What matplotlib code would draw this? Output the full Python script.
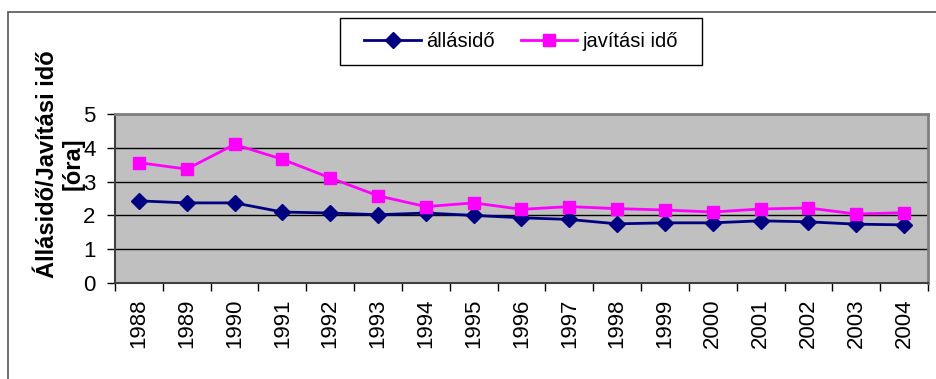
import matplotlib
matplotlib.use("Agg")
import matplotlib.pyplot as plt
from matplotlib.patches import Rectangle

plt.rcParams['font.family'] = ['Liberation Sans', 'DejaVu Sans']

years = ['1988', '1989', '1990', '1991', '1992', '1993', '1994', '1995', '1996',
         '1997', '1998', '1999', '2000', '2001', '2002', '2003', '2004']
allasido = [2.43, 2.37, 2.37, 2.10, 2.07, 2.02, 2.07, 2.00, 1.93,
            1.88, 1.75, 1.78, 1.78, 1.84, 1.81, 1.74, 1.72]
javitasi_ido = [3.56, 3.37, 4.10, 3.66, 3.11, 2.58, 2.26, 2.37, 2.18,
                2.26, 2.20, 2.16, 2.10, 2.19, 2.22, 2.04, 2.08]
series_names = ['állásidő', 'javítási idő']
y_label = 'Állásidő/Javítási idő\n[óra]'

W, H = 937, 379
fig = plt.figure(figsize=(W / 100, H / 100), dpi=100)

# outer chart frame (open to the right and bottom)
fig.patches.append(Rectangle((8 / W, -0.2), 1.2, 1.2 - 12 / H,
                             transform=fig.transFigure, fill=False,
                             edgecolor='#555555', linewidth=1.2))

left, right, top, bottom = 115, 928, 114, 283
ax = fig.add_axes([left / W, 1 - bottom / H, (right - left) / W, (bottom - top) / H])
ax.set_facecolor('#C0C0C0')

x = list(range(len(years)))
l1, = ax.plot(x, allasido, color='#000080', linewidth=2, marker='D',
              markersize=8, markerfacecolor='#000080', markeredgecolor='#000080')
l2, = ax.plot(x, javitasi_ido, color='#FF00FF', linewidth=2, marker='s',
              markersize=9, markerfacecolor='#FF00FF', markeredgecolor='#FF00FF')

ax.set_xlim(-0.5, len(years) - 0.5)
ax.set_ylim(0, 5)
ax.set_yticks([0, 1, 2, 3, 4, 5])
ax.yaxis.grid(True, color='#000000', linewidth=1.0)
ax.set_axisbelow(True)

# category labels centred, tick marks on boundaries
ax.set_xticks(x)
ax.set_xticklabels(years, rotation=90, fontsize=16)
ax.tick_params(axis='x', which='major', length=0, pad=11)
ax.set_xticks([i - 0.5 for i in range(len(years) + 1)], minor=True)
ax.tick_params(axis='x', which='minor', length=6, width=1, color='#000000', direction='out')
ax.tick_params(axis='y', labelsize=16, length=6, width=1, pad=8, direction='out')

for s in ['top', 'right']:
    ax.spines[s].set_color('#808080')
    ax.spines[s].set_linewidth(2)
for s in ['left', 'bottom']:
    ax.spines[s].set_color('#404040')
    ax.spines[s].set_linewidth(1.5)

fig.text(60 / W, 1 - 164 / H, y_label, rotation=90, ha='center', va='center',
         fontsize=17, fontweight='bold', linespacing=1.15)

# legend box
lx0, lx1, ly0, ly1 = 340, 702, 18, 65
fig.patches.append(Rectangle((lx0 / W, 1 - ly1 / H), (lx1 - lx0) / W, (ly1 - ly0) / H,
                             transform=fig.transFigure, fill=True, facecolor='white',
                             edgecolor='#000000', linewidth=1.0, zorder=5))
leg = fig.legend([l1, l2], series_names, loc='center',
                 bbox_to_anchor=((lx0 + lx1) / 2 / W, 1 - (ly0 + ly1) / 2 / H), ncol=2,
                 fontsize=14.5, frameon=False,
                 handlelength=2.8, handletextpad=0.25, columnspacing=1.3)
leg.set_zorder(6)

fig.savefig('out.png', dpi=100)
